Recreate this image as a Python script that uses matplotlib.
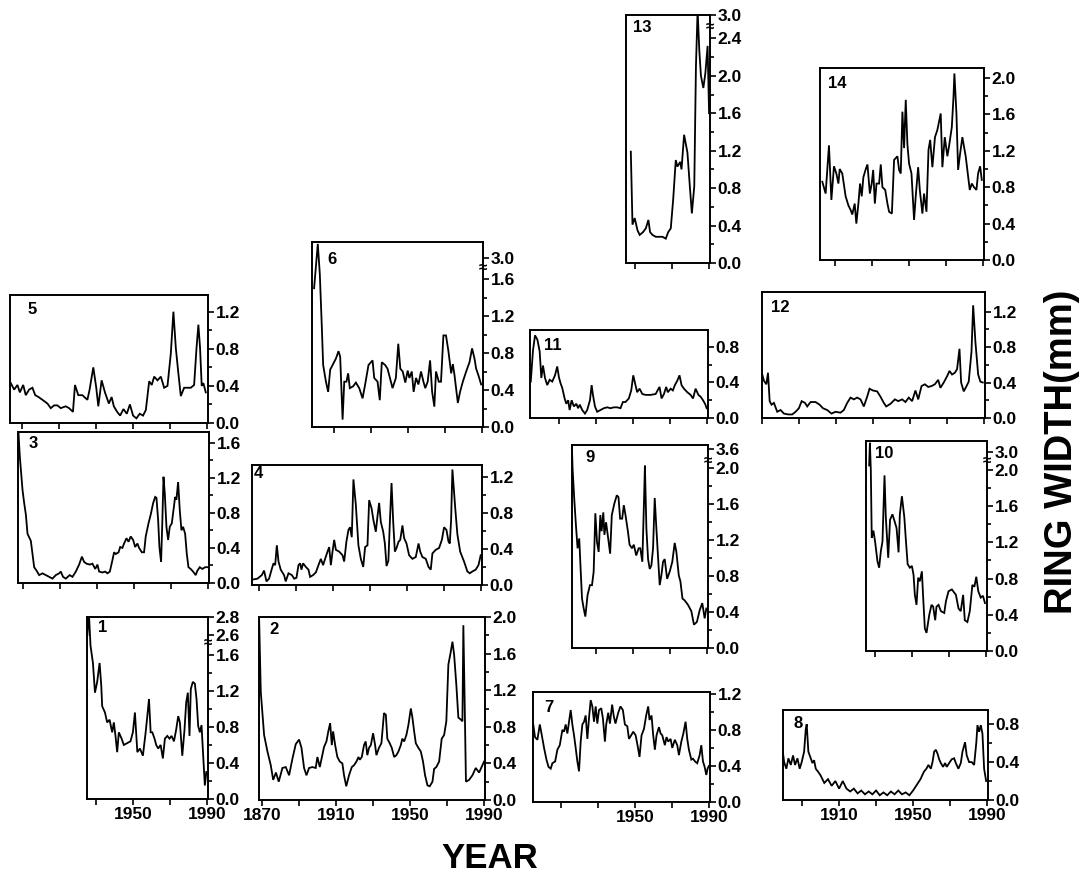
import numpy as np
import matplotlib
matplotlib.use("Agg")
import matplotlib.pyplot as plt

plt.rcParams['font.family'] = ['Liberation Sans', 'DejaVu Sans']
plt.rcParams['font.weight'] = 'bold'

# ---------------- data: (year, ring width mm) ----------------
p1 = [(1925.3,2.60),(1926.1,2.85),(1927.0,1.72),(1928.3,1.51),(1929.4,1.18),(1930.6,1.30),(1931.9,1.51),(1932.8,1.26),(1933.3,1.03),(1934.8,0.96),(1936.0,0.85),(1937.3,0.88),(1938.7,0.74),(1939.6,0.85),(1940.5,0.70),(1941.4,0.52),(1942.3,0.74),(1943.8,0.67),(1945.0,0.60),(1946.8,0.62),(1948.6,0.64),(1949.9,0.74),(1951.0,0.96),(1952.3,0.52),(1953.7,0.56),(1955.3,0.48),(1956.8,0.74),(1957.7,0.92),(1958.6,1.11),(1959.5,0.74),(1960.4,0.74),(1961.6,0.67),(1962.5,0.60),(1963.6,0.56),(1964.9,0.60),(1966.1,0.45),(1967.2,0.67),(1968.5,0.70),(1969.7,0.67),(1970.8,0.70),(1972.1,0.64),(1973.3,0.77),(1974.4,0.92),(1975.3,0.85),(1976.6,0.48),(1977.8,0.77),(1978.7,1.07),(1979.6,1.18),(1980.5,0.70),(1981.2,1.22),(1982.3,1.30),(1983.4,1.28),(1984.3,1.11),(1985.2,0.81),(1986.1,0.74),(1987.0,0.82),(1987.9,0.48),(1988.8,0.15),(1989.6,0.30)]

p2 = [(1868.4,1.99),(1869.3,1.18),(1871.1,0.71),(1872.9,0.53),(1874.7,0.38),(1876.0,0.22),(1877.5,0.30),(1879.0,0.20),(1881.0,0.35),(1882.8,0.36),(1884.6,0.27),(1886.4,0.45),(1888.2,0.61),(1890.0,0.66),(1891.3,0.57),(1892.7,0.35),(1894.0,0.27),(1895.4,0.35),(1897.2,0.36),(1899.0,0.35),(1899.9,0.47),(1901.2,0.36),(1903.5,0.58),(1904.8,0.64),(1905.8,0.75),(1906.8,0.84),(1907.7,0.60),(1908.4,0.75),(1909.5,0.60),(1910.7,0.47),(1912.0,0.42),(1913.4,0.40),(1914.3,0.27),(1915.5,0.15),(1917.0,0.27),(1918.5,0.36),(1919.7,0.38),(1921.0,0.42),(1922.1,0.47),(1922.8,0.44),(1923.9,0.47),(1925.1,0.60),(1926.0,0.64),(1926.9,0.49),(1927.8,0.57),(1928.8,0.60),(1930.0,0.73),(1931.1,0.60),(1931.8,0.49),(1933.2,0.57),(1934.5,0.62),(1935.9,0.95),(1936.9,0.93),(1937.7,0.67),(1939.0,0.62),(1940.1,0.57),(1941.4,0.47),(1942.6,0.49),(1943.7,0.53),(1945.0,0.60),(1945.8,0.67),(1946.8,0.64),(1948.0,0.71),(1949.1,0.82),(1950.4,1.00),(1951.2,0.91),(1952.2,0.75),(1953.1,0.62),(1954.5,0.57),(1955.8,0.53),(1957.0,0.42),(1958.1,0.27),(1959.4,0.16),(1960.6,0.15),(1962.1,0.20),(1963.0,0.34),(1964.2,0.36),(1965.7,0.42),(1967.1,0.67),(1968.4,0.71),(1969.6,0.86),(1970.7,1.48),(1972.0,1.62),(1972.9,1.73),(1973.8,1.59),(1975.0,1.26),(1976.1,0.90),(1977.4,0.88),(1978.3,0.86),(1978.8,1.91),(1979.5,1.08),(1980.2,0.20),(1981.9,0.22),(1983.7,0.27),(1985.5,0.35),(1987.3,0.30),(1989.1,0.38),(1990.0,0.42)]

p3 = [(1887.5,1.72),(1888.2,1.45),(1889.7,1.06),(1890.6,0.91),(1891.5,0.78),(1892.4,0.56),(1893.3,0.52),(1894.2,0.48),(1895.1,0.33),(1896.0,0.18),(1897.3,0.14),(1898.7,0.09),(1900.5,0.11),(1902.3,0.09),(1904.1,0.07),(1905.9,0.05),(1907.7,0.09),(1909.5,0.11),(1910.4,0.13),(1911.6,0.07),(1913.1,0.05),(1915.2,0.09),(1916.7,0.07),(1918.5,0.13),(1920.3,0.21),(1921.8,0.30),(1923.0,0.24),(1924.3,0.22),(1926.1,0.21),(1927.5,0.22),(1929.0,0.16),(1930.2,0.21),(1931.1,0.13),(1932.9,0.12),(1934.4,0.13),(1935.6,0.11),(1936.9,0.13),(1938.3,0.26),(1939.2,0.35),(1940.1,0.33),(1941.6,0.35),(1942.5,0.41),(1943.7,0.40),(1944.6,0.45),(1945.9,0.51),(1947.0,0.47),(1948.2,0.53),(1949.5,0.49),(1950.6,0.41),(1951.8,0.45),(1952.7,0.40),(1954.2,0.35),(1955.4,0.35),(1956.3,0.53),(1957.8,0.68),(1959.0,0.78),(1960.3,0.91),(1961.4,0.98),(1962.1,0.97),(1963.0,0.72),(1963.7,0.41),(1964.6,0.24),(1965.3,0.72),(1965.9,1.21),(1966.6,1.02),(1967.5,0.64),(1968.4,0.49),(1969.3,0.64),(1970.4,0.68),(1971.3,0.83),(1972.2,0.98),(1972.9,0.95),(1973.8,1.15),(1974.7,0.83),(1975.6,0.60),(1976.5,0.64),(1977.6,0.56),(1978.5,0.33),(1979.4,0.18),(1980.6,0.16),(1981.9,0.13),(1983.3,0.09),(1984.2,0.14),(1985.5,0.18),(1986.9,0.16),(1988.4,0.18),(1989.6,0.18)]

p4 = [(1866.4,0.06),(1869.1,0.07),(1871.5,0.11),(1872.7,0.16),(1874.0,0.04),(1875.4,0.07),(1876.9,0.18),(1877.8,0.24),(1878.7,0.22),(1879.6,0.44),(1880.5,0.26),(1881.7,0.17),(1883.5,0.11),(1884.4,0.04),(1885.9,0.13),(1887.7,0.11),(1889.0,0.07),(1890.2,0.08),(1891.3,0.22),(1892.2,0.24),(1892.9,0.17),(1893.8,0.24),(1895.3,0.20),(1896.7,0.17),(1897.6,0.09),(1899.2,0.11),(1900.7,0.14),(1902.1,0.22),(1903.4,0.29),(1904.6,0.22),(1905.7,0.29),(1907.0,0.37),(1907.9,0.42),(1908.8,0.22),(1909.7,0.37),(1910.6,0.50),(1911.5,0.39),(1913.3,0.37),(1915.1,0.33),(1916.0,0.26),(1917.2,0.48),(1918.3,0.61),(1919.2,0.64),(1920.1,0.53),(1921.0,1.17),(1922.3,0.89),(1923.7,0.44),(1925.0,0.29),(1926.3,0.20),(1927.3,0.42),(1928.6,0.44),(1929.5,0.94),(1930.8,0.85),(1931.8,0.72),(1933.1,0.59),(1934.0,0.76),(1934.9,0.91),(1935.8,0.70),(1937.1,0.59),(1938.0,0.46),(1938.9,0.21),(1939.9,0.27),(1940.7,0.70),(1941.6,1.13),(1942.5,0.70),(1943.4,0.37),(1944.3,0.41),(1945.4,0.48),(1946.3,0.50),(1947.5,0.66),(1948.4,0.52),(1949.7,0.46),(1951.1,0.33),(1952.9,0.29),(1954.7,0.31),(1956.2,0.46),(1957.1,0.37),(1958.3,0.31),(1960.1,0.29),(1961.6,0.20),(1962.8,0.17),(1963.7,0.35),(1965.5,0.39),(1967.3,0.41),(1968.8,0.50),(1970.0,0.64),(1971.3,0.61),(1972.4,0.48),(1973.1,0.46),(1973.8,0.72),(1974.5,1.28),(1976.0,0.86),(1977.2,0.56),(1978.7,0.37),(1980.8,0.26),(1982.6,0.15),(1983.9,0.13),(1985.3,0.15),(1987.1,0.17),(1988.6,0.22),(1989.8,0.33)]

p5 = [(1883.9,0.43),(1885.7,0.36),(1887.5,0.41),(1888.8,0.33),(1890.6,0.41),(1892.0,0.30),(1893.8,0.36),(1895.6,0.38),(1897.1,0.30),(1898.9,0.28),(1901.0,0.25),(1903.7,0.21),(1905.5,0.16),(1907.3,0.19),(1909.1,0.19),(1910.9,0.16),(1913.6,0.18),(1915.4,0.16),(1917.5,0.12),(1918.6,0.41),(1920.4,0.30),(1922.6,0.30),(1925.3,0.25),(1926.5,0.36),(1928.5,0.60),(1930.1,0.38),(1931.2,0.18),(1933.0,0.46),(1934.8,0.33),(1936.9,0.21),(1938.4,0.28),(1939.6,0.18),(1941.4,0.12),(1943.0,0.08),(1944.8,0.15),(1946.6,0.10),(1948.3,0.20),(1950.0,0.08),(1951.8,0.05),(1953.6,0.10),(1955.4,0.08),(1956.9,0.14),(1958.7,0.45),(1960.1,0.41),(1961.4,0.50),(1963.2,0.46),(1965.0,0.50),(1966.8,0.38),(1968.6,0.40),(1970.4,0.75),(1971.8,1.20),(1973.1,0.81),(1974.3,0.57),(1975.8,0.29),(1977.6,0.38),(1979.4,0.38),(1981.2,0.38),(1983.0,0.41),(1984.3,0.81),(1985.3,1.06),(1986.2,0.81),(1987.1,0.40),(1988.0,0.43),(1989.3,0.33)]

p6 = [(1899.2,1.50),(1901.2,3.15),(1902.3,1.65),(1903.4,1.07),(1904.1,0.67),(1905.6,0.49),(1906.8,0.38),(1907.9,0.62),(1909.2,0.67),(1911.0,0.74),(1912.4,0.82),(1913.3,0.76),(1914.6,0.08),(1915.5,0.49),(1916.7,0.49),(1917.6,0.58),(1918.5,0.42),(1920.3,0.44),(1921.8,0.48),(1923.6,0.42),(1925.4,0.31),(1926.8,0.46),(1928.6,0.67),(1930.8,0.72),(1931.7,0.53),(1933.5,0.49),(1934.7,0.29),(1935.8,0.70),(1937.6,0.67),(1938.9,0.63),(1940.2,0.53),(1941.6,0.42),(1943.4,0.53),(1944.7,0.90),(1945.8,0.63),(1947.1,0.60),(1948.5,0.48),(1949.8,0.61),(1950.7,0.53),(1952.0,0.60),(1953.0,0.38),(1954.3,0.53),(1955.6,0.46),(1957.0,0.60),(1958.3,0.49),(1959.3,0.42),(1960.6,0.49),(1961.9,0.72),(1963.0,0.38),(1964.2,0.22),(1965.1,0.60),(1966.6,0.49),(1967.8,0.49),(1969.1,0.99),(1970.5,0.99),(1971.8,0.82),(1973.3,0.58),(1974.2,0.68),(1975.1,0.56),(1976.9,0.26),(1978.1,0.38),(1979.6,0.49),(1981.4,0.60),(1983.2,0.70),(1984.6,0.85),(1985.9,0.74),(1986.8,0.63),(1988.0,0.56),(1989.5,0.46)]

p7 = [(1894.9,0.87),(1895.9,0.72),(1897.2,0.69),(1898.5,0.86),(1899.5,0.75),(1900.8,0.60),(1902.1,0.47),(1903.2,0.39),(1904.4,0.37),(1905.3,0.43),(1906.8,0.45),(1908.0,0.58),(1909.3,0.63),(1910.7,0.80),(1911.6,0.78),(1912.5,0.86),(1913.4,0.76),(1914.3,0.89),(1915.2,1.02),(1916.1,0.86),(1917.0,0.74),(1917.9,0.60),(1918.8,0.45),(1919.7,0.34),(1920.6,0.67),(1921.5,0.86),(1922.4,0.89),(1923.3,0.96),(1924.2,0.70),(1925.1,0.93),(1926.0,1.13),(1926.9,1.06),(1927.8,0.89),(1928.7,1.06),(1929.6,0.87),(1930.5,1.02),(1931.7,1.04),(1932.6,0.93),(1933.7,0.67),(1934.4,0.86),(1935.5,0.99),(1936.4,0.87),(1937.6,1.08),(1938.5,0.95),(1939.4,0.87),(1940.9,0.99),(1942.1,1.06),(1943.4,1.02),(1944.5,0.86),(1945.8,0.84),(1946.7,0.70),(1947.9,0.74),(1949.0,0.78),(1950.3,0.74),(1951.5,0.61),(1952.4,0.50),(1953.5,0.74),(1954.8,0.81),(1956.0,0.96),(1957.1,1.06),(1957.8,0.91),(1958.9,0.96),(1959.8,0.74),(1960.7,0.58),(1961.6,0.74),(1962.9,0.83),(1963.8,0.76),(1964.7,0.74),(1966.1,0.63),(1967.0,0.72),(1967.9,0.67),(1969.2,0.70),(1970.1,0.60),(1971.5,0.69),(1972.8,0.63),(1973.7,0.52),(1975.0,0.67),(1976.1,0.76),(1977.3,0.89),(1978.2,0.70),(1979.1,0.58),(1980.4,0.47),(1981.3,0.48),(1982.4,0.45),(1983.6,0.43),(1984.9,0.52),(1985.8,0.63),(1986.7,0.45),(1987.6,0.39),(1988.5,0.30),(1989.2,0.37),(1989.9,0.40)]

p8 = [(1879.4,0.54),(1880.3,0.40),(1881.5,0.33),(1882.6,0.44),(1883.9,0.37),(1885.1,0.47),(1886.2,0.37),(1887.5,0.44),(1888.7,0.33),(1889.8,0.40),(1891.1,0.51),(1892.0,0.75),(1892.5,0.80),(1893.4,0.51),(1894.7,0.44),(1895.6,0.39),(1896.5,0.42),(1897.4,0.33),(1898.6,0.30),(1900.0,0.26),(1902.0,0.18),(1904.0,0.22),(1906.0,0.15),(1908.0,0.20),(1910.0,0.12),(1912.0,0.20),(1914.0,0.12),(1916.0,0.09),(1918.0,0.12),(1920.0,0.07),(1922.0,0.10),(1924.0,0.06),(1926.0,0.09),(1928.0,0.06),(1930.0,0.10),(1932.0,0.05),(1934.0,0.08),(1936.0,0.05),(1938.0,0.09),(1940.0,0.06),(1942.0,0.10),(1944.0,0.06),(1946.0,0.08),(1948.0,0.05),(1950.0,0.10),(1952.0,0.16),(1954.0,0.22),(1955.9,0.30),(1957.2,0.33),(1958.3,0.37),(1959.6,0.33),(1960.5,0.40),(1961.4,0.51),(1962.3,0.53),(1963.2,0.49),(1964.1,0.43),(1965.0,0.39),(1966.2,0.35),(1967.3,0.39),(1968.2,0.35),(1969.5,0.39),(1970.9,0.43),(1972.2,0.44),(1973.1,0.39),(1974.5,0.33),(1975.8,0.39),(1976.7,0.51),(1978.1,0.61),(1979.0,0.47),(1980.3,0.40),(1981.7,0.40),(1983.0,0.37),(1984.2,0.61),(1984.8,0.79),(1985.7,0.72),(1986.6,0.79),(1987.5,0.70),(1988.4,0.33),(1989.5,0.20)]

p9 = [(1916.9,3.65),(1917.3,2.00),(1918.2,1.66),(1919.1,1.37),(1920.0,1.11),(1920.9,1.22),(1921.8,0.81),(1922.4,0.55),(1923.3,0.44),(1924.2,0.35),(1925.4,0.59),(1926.7,0.70),(1927.8,0.70),(1928.7,0.85),(1929.6,1.50),(1930.5,1.18),(1931.4,1.07),(1932.3,1.48),(1933.0,1.30),(1933.9,1.51),(1934.5,1.26),(1935.4,1.40),(1936.8,1.18),(1937.6,1.05),(1938.5,1.48),(1939.9,1.61),(1941.2,1.70),(1942.1,1.68),(1943.0,1.44),(1944.1,1.44),(1945.0,1.59),(1945.9,1.48),(1947.2,1.30),(1948.1,1.15),(1949.4,1.11),(1950.4,1.15),(1951.7,1.03),(1953.0,1.11),(1953.9,1.11),(1955.0,0.96),(1955.9,1.63),(1956.4,2.03),(1957.2,1.33),(1958.1,0.99),(1959.0,0.88),(1959.9,0.92),(1960.8,1.11),(1961.7,1.67),(1962.6,1.33),(1963.5,1.01),(1964.4,0.70),(1965.3,0.81),(1966.2,0.96),(1967.1,0.99),(1968.4,0.77),(1969.8,0.85),(1971.2,0.96),(1972.5,1.17),(1973.4,1.07),(1974.7,0.81),(1975.6,0.74),(1976.7,0.55),(1977.9,0.53),(1979.7,0.48),(1981.5,0.41),(1982.9,0.26),(1984.5,0.29),(1986.0,0.42),(1987.4,0.50),(1988.7,0.33),(1989.6,0.44)]

p10 = [(1926.8,2.05),(1927.2,3.10),(1927.7,2.00),(1928.2,1.25),(1929.1,1.33),(1930.0,1.21),(1931.3,0.99),(1932.2,0.92),(1933.1,1.10),(1934.0,1.21),(1935.1,1.94),(1935.8,1.48),(1937.1,1.03),(1938.1,1.45),(1939.4,1.51),(1940.3,1.45),(1941.6,1.36),(1942.7,1.09),(1943.4,1.51),(1944.5,1.71),(1945.8,1.48),(1946.7,1.21),(1947.6,0.96),(1948.8,0.92),(1949.9,0.94),(1950.8,0.84),(1951.5,0.62),(1952.4,0.51),(1953.3,0.81),(1954.2,0.77),(1955.3,0.88),(1956.0,0.59),(1956.9,0.25),(1957.8,0.20),(1959.3,0.40),(1960.5,0.51),(1961.4,0.49),(1962.5,0.34),(1963.2,0.49),(1964.3,0.51),(1965.6,0.44),(1967.4,0.42),(1968.3,0.55),(1969.7,0.66),(1971.5,0.68),(1973.7,0.62),(1975.1,0.47),(1976.3,0.44),(1977.6,0.62),(1978.5,0.34),(1979.9,0.32),(1981.2,0.44),(1982.6,0.73),(1983.7,0.71),(1984.7,0.82),(1985.8,0.66),(1987.1,0.59),(1988.3,0.61),(1989.4,0.53)]

p11 = [(1894.7,0.41),(1895.9,0.76),(1897.0,0.93),(1898.3,0.88),(1899.5,0.75),(1900.4,0.45),(1901.3,0.59),(1902.4,0.45),(1903.6,0.37),(1904.9,0.43),(1906.3,0.41),(1907.8,0.48),(1909.0,0.58),(1909.9,0.46),(1910.8,0.39),(1911.7,0.34),(1913.0,0.22),(1913.9,0.16),(1914.9,0.20),(1915.7,0.09),(1916.8,0.20),(1918.0,0.13),(1919.3,0.16),(1920.3,0.11),(1921.2,0.15),(1922.5,0.09),(1924.0,0.05),(1925.2,0.09),(1926.7,0.20),(1927.6,0.37),(1928.3,0.26),(1929.4,0.13),(1930.6,0.07),(1932.4,0.09),(1934.2,0.11),(1936.0,0.12),(1937.8,0.11),(1939.6,0.12),(1941.4,0.12),(1943.2,0.11),(1944.5,0.18),(1945.9,0.18),(1947.7,0.22),(1949.0,0.31),(1950.1,0.48),(1951.3,0.37),(1952.2,0.29),(1953.5,0.33),(1955.0,0.27),(1956.8,0.26),(1959.5,0.26),(1962.2,0.27),(1964.3,0.35),(1965.4,0.22),(1966.7,0.27),(1967.9,0.35),(1968.8,0.29),(1970.3,0.33),(1971.5,0.31),(1972.6,0.37),(1973.9,0.42),(1975.1,0.48),(1976.2,0.37),(1977.5,0.33),(1979.3,0.29),(1981.1,0.26),(1982.4,0.22),(1983.8,0.33),(1985.3,0.26),(1986.5,0.24),(1987.8,0.20),(1988.9,0.16),(1989.8,0.11)]

p12 = [(1869.6,0.53),(1871.0,0.42),(1872.3,0.38),(1873.2,0.51),(1874.1,0.19),(1875.1,0.15),(1876.4,0.17),(1878.2,0.07),(1880.0,0.09),(1881.8,0.05),(1884.2,0.04),(1886.3,0.04),(1888.1,0.07),(1889.9,0.11),(1891.4,0.19),(1893.2,0.17),(1894.4,0.13),(1896.2,0.18),(1898.9,0.18),(1901.1,0.15),(1902.9,0.11),(1905.2,0.09),(1907.5,0.05),(1909.7,0.07),(1912.4,0.06),(1914.2,0.09),(1916.0,0.17),(1917.8,0.23),(1919.6,0.21),(1921.4,0.23),(1923.2,0.21),(1925.0,0.13),(1926.8,0.24),(1928.1,0.33),(1929.9,0.31),(1932.2,0.30),(1934.0,0.24),(1935.8,0.17),(1937.1,0.13),(1939.4,0.16),(1941.8,0.21),(1943.6,0.19),(1945.7,0.21),(1947.5,0.18),(1949.3,0.23),(1951.1,0.19),(1952.9,0.31),(1954.4,0.21),(1956.2,0.36),(1958.0,0.38),(1959.8,0.35),(1961.6,0.36),(1963.4,0.38),(1965.2,0.43),(1966.4,0.34),(1968.2,0.40),(1970.0,0.47),(1971.3,0.53),(1972.7,0.49),(1974.2,0.51),(1975.4,0.55),(1976.7,0.78),(1977.6,0.40),(1979.0,0.30),(1980.3,0.35),(1981.7,0.41),(1983.2,0.75),(1984.1,1.27),(1985.3,0.86),(1986.8,0.49),(1988.0,0.41),(1989.3,0.40)]

p13 = [(1947.7,1.19),(1948.6,0.41),(1949.8,0.48),(1951.3,0.35),(1952.5,0.30),(1954.3,0.33),(1955.8,0.37),(1957.2,0.46),(1958.1,0.33),(1959.4,0.30),(1961.2,0.28),(1963.0,0.28),(1964.8,0.28),(1966.6,0.26),(1967.9,0.33),(1969.3,0.37),(1970.6,0.68),(1972.0,1.10),(1972.9,1.03),(1974.4,1.08),(1975.1,1.00),(1976.5,1.37),(1978.3,1.18),(1979.6,0.82),(1980.7,0.53),(1982.0,0.82),(1982.9,2.10),(1983.8,3.05),(1984.7,2.28),(1985.6,2.00),(1986.9,1.87),(1988.0,2.03),(1989.2,2.32),(1990.0,1.60)]

p14 = [(1903.1,0.86),(1904.9,0.73),(1906.7,1.26),(1908.0,0.66),(1909.4,1.03),(1910.7,0.95),(1911.8,0.84),(1912.5,1.00),(1913.9,0.95),(1915.7,0.70),(1917.2,0.60),(1918.4,0.55),(1919.3,0.50),(1920.6,0.62),(1921.5,0.40),(1922.6,0.62),(1923.5,0.84),(1924.4,0.70),(1925.3,0.91),(1926.6,1.00),(1927.5,1.05),(1928.8,0.73),(1929.8,0.84),(1930.6,0.99),(1931.5,0.62),(1932.4,0.84),(1933.8,0.84),(1934.7,1.05),(1935.6,0.80),(1937.1,0.77),(1938.3,0.62),(1939.2,0.53),(1940.7,0.51),(1941.9,1.10),(1943.7,1.14),(1944.6,0.99),(1945.5,0.95),(1946.4,1.63),(1947.3,1.23),(1948.2,1.76),(1949.1,1.27),(1950.0,1.06),(1951.3,0.95),(1952.7,0.44),(1953.6,0.70),(1954.9,1.02),(1955.8,0.77),(1957.2,0.51),(1958.1,0.73),(1959.4,0.53),(1960.5,1.21),(1961.4,1.32),(1962.6,1.02),(1964.0,1.35),(1965.3,1.43),(1967.1,1.61),(1968.0,1.02),(1969.3,1.35),(1970.7,1.14),(1971.6,1.25),(1973.1,1.46),(1974.0,1.79),(1974.5,2.05),(1975.6,1.61),(1976.5,0.99),(1977.4,1.14),(1978.8,1.35),(1980.6,1.14),(1981.5,0.99),(1982.8,0.77),(1983.9,0.84),(1985.1,0.80),(1986.4,0.77),(1987.3,0.95),(1988.4,1.03),(1989.3,0.88)]

# ---------------- layout (pixel boxes: left, top, right, bottom) ----------------
W, H = 1086, 881
PX_PER_YEAR = 1.85
X_RIGHT = 1990.5

panels = [
    dict(name='1', data=p1, box=(87, 617, 208, 799), dtop=2.02, knots=([0, 1.7, 2.55], [0, 1.7, 1.77]),
         major=[0, 0.4, 0.8, 1.2, 1.6, 2.6, 2.8], minor=[0.2, 0.6, 1.0, 1.4], xlab=[1950, 1990], lab=(16, 11), brk=2.1),
    dict(name='2', data=p2, box=(259, 617, 485, 800), dtop=2.0, knots=None,
         major=[0, 0.4, 0.8, 1.2, 1.6, 2.0], minor=[0.2, 0.6, 1.0, 1.4, 1.8], xlab=[1870, 1910, 1950, 1990], lab=(15, 13)),
    dict(name='3', data=p3, box=(18, 432, 209, 583), dtop=1.72, knots=None,
         major=[0, 0.4, 0.8, 1.2, 1.6], minor=[0.2, 0.6, 1.0, 1.4], xlab=[], lab=(15, 12)),
    dict(name='4', data=p4, box=(252, 465, 482, 585), dtop=1.33, knots=None,
         major=[0, 0.4, 0.8, 1.2], minor=[0.2, 0.6, 1.0], xlab=[], lab=(6, 8)),
    dict(name='5', data=p5, box=(10, 295, 208, 423), dtop=1.38, knots=None,
         major=[0, 0.4, 0.8, 1.2], minor=[0.2, 0.6, 1.0], xlab=[], lab=(22, 14)),
    dict(name='6', data=p6, box=(312, 242, 483, 427), dtop=2.0, knots=([0, 1.7, 2.9], [0, 1.7, 1.73]),
         major=[0, 0.4, 0.8, 1.2, 1.6, 3.0], minor=[0.2, 0.6, 1.0, 1.4], xlab=[], lab=(20, 18), brk=2.3),
    dict(name='7', data=p7, box=(533, 692, 710, 802), dtop=1.22, knots=None,
         major=[0, 0.4, 0.8, 1.2], minor=[0.2, 0.6, 1.0], xlab=[1950, 1990], lab=(16, 15)),
    dict(name='8', data=p8, box=(783, 710, 988, 800), dtop=0.95, knots=None,
         major=[0, 0.4, 0.8], minor=[0.2, 0.6], xlab=[1910, 1950, 1990], lab=(15, 13)),
    dict(name='9', data=p9, box=(572, 445, 708, 648), dtop=2.26, knots=([0, 2.05, 3.5], [0, 2.05, 2.11]),
         major=[0, 0.4, 0.8, 1.2, 1.6, 2.0, 3.6], minor=[0.2, 0.6, 1.0, 1.4, 1.8], xlab=[], lab=(18, 12), brk=2.8),
    dict(name='10', data=p10, box=(866, 441, 987, 651), dtop=2.32, knots=([0, 2.08, 2.92], [0, 2.08, 2.12]),
         major=[0, 0.4, 0.8, 1.2, 1.6, 2.0, 3.0], minor=[0.2, 0.6, 1.0, 1.4, 1.8], xlab=[], lab=(18, 13), brk=2.5),
    dict(name='11', data=p11, box=(530, 330, 708, 418), dtop=0.99, knots=None,
         major=[0, 0.4, 0.8], minor=[0.2, 0.6], xlab=[], lab=(23, 15)),
    dict(name='12', data=p12, box=(762, 292, 985, 418), dtop=1.42, knots=None,
         major=[0, 0.4, 0.8, 1.2], minor=[0.2, 0.6, 1.0], xlab=[], lab=(18, 15)),
    dict(name='13', data=p13, box=(626, 15, 710, 263), dtop=2.65, knots=([0, 2.5, 2.9], [0, 2.5, 2.55]),
         major=[0, 0.4, 0.8, 1.2, 1.6, 2.0, 2.4, 3.0], minor=[0.2, 0.6, 1.0, 1.4, 1.8, 2.2], xlab=[], lab=(16, 12), brk=2.7),
    dict(name='14', data=p14, box=(820, 68, 984, 260), dtop=2.11, knots=None,
         major=[0, 0.4, 0.8, 1.2, 1.6, 2.0], minor=[0.2, 0.6, 1.0, 1.4, 1.8], xlab=[], lab=(17, 15)),
]


def piecewise(kd, kp):
    kd = np.asarray(kd, float)
    kp = np.asarray(kp, float)
    xd = np.concatenate([[-50.0], kd, [kd[-1] + 50.0]])
    xp = np.concatenate([[-50.0], kp, [kp[-1] + 50.0]])
    fwd = lambda v: np.interp(np.asarray(v, float), xd, xp)
    inv = lambda v: np.interp(np.asarray(v, float), xp, xd)
    return fwd, inv


fig = plt.figure(figsize=(W / 100, H / 100), dpi=100)

for p in panels:
    L, T, R, B = p['box']
    ax = fig.add_axes([L / W, 1 - B / H, (R - L) / W, (B - T) / H])
    yrs = [d[0] for d in p['data']]
    vals = [d[1] for d in p['data']]

    if p['knots'] is not None:
        fwd, inv = piecewise(*p['knots'])
        ax.set_yscale('function', functions=(fwd, inv))
        ytop = float(inv(p['dtop']))
    else:
        ytop = p['dtop']

    ax.plot(yrs, vals, color='black', lw=1.3, solid_joinstyle='miter')

    x_left = X_RIGHT - (R - L) / PX_PER_YEAR
    ax.set_xlim(x_left, X_RIGHT)
    ax.set_ylim(0, ytop)

    # y axis on right
    ax.yaxis.tick_right()
    ax.set_yticks(p['major'])
    ax.set_yticklabels([f'{v:.1f}' for v in p['major']])
    ax.set_yticks(p['minor'], minor=True)
    ax.tick_params(axis='y', which='both', direction='out', left=False, right=True,
                   width=1.2, pad=1.5, labelsize=12.5)
    ax.tick_params(axis='y', which='major', length=4)
    ax.tick_params(axis='y', which='minor', length=3)

    # x axis
    xt = [t for t in range(1870, 1991, 20) if t >= x_left]
    ax.set_xticks(xt)
    ax.set_xticklabels([str(t) if t in p['xlab'] else '' for t in xt])
    ax.xaxis.set_minor_locator(matplotlib.ticker.NullLocator())
    ax.tick_params(axis='x', which='both', direction='out', length=4, width=1.2,
                   pad=1.5, labelsize=12.5, top=False)

    for s in ax.spines.values():
        s.set_linewidth(1.4)

    dx, dy = p['lab']
    ax.annotate(p['name'], xy=(0, 1), xycoords='axes fraction', xytext=(dx, -dy),
                textcoords='offset pixels', ha='center', va='center',
                fontsize=12, fontweight='bold')

    if 'brk' in p:
        ax.text(1.0, p['brk'], '\u2248', transform=ax.get_yaxis_transform(),
                ha='center', va='center', fontsize=11, fontweight='bold', clip_on=False)

fig.text(1062 / W, 1 - 452 / H, 'RING WIDTH(mm)', rotation=90, ha='center', va='center',
         fontsize=27.5, fontweight='bold')
fig.text(490 / W, 1 - 858 / H, 'YEAR', ha='center', va='center', fontsize=25, fontweight='bold')

fig.savefig('out.png', dpi=100)
